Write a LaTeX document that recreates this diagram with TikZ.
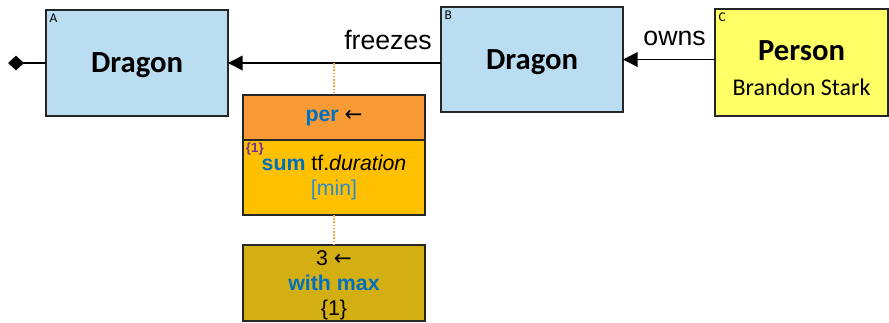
\documentclass[tikz,border=0pt]{standalone}
\usepackage{fontspec}
\setmainfont{Liberation Sans}
\newfontfamily\calibri{Carlito}
\newfontfamily\arrowfont{DejaVu Sans}
\usetikzlibrary{arrows.meta,positioning}
\definecolor{DragonBlue}{HTML}{BBDDF1}
\definecolor{PersonYellow}{HTML}{FFFF66}
\definecolor{PerOrange}{HTML}{F89A36}
\definecolor{SumGold}{HTML}{FFC000}
\definecolor{LimGold}{HTML}{D4AF14}
\definecolor{KeyBlue}{HTML}{0070C0}
\definecolor{MinBlue}{HTML}{2E8BD0}
\definecolor{TagPurple}{HTML}{7030A0}
\definecolor{DotOrange}{HTML}{F5A04A}
\newcommand{\larr}{{\arrowfont\fontsize{16}{18}\selectfont ←}}

\begin{document}
\begin{tikzpicture}[x=0.75pt,y=-0.75pt,>={Triangle[length=11pt,width=11pt]},
  entity/.style={draw=black!85,line width=1pt,minimum width=136.5pt,outer sep=0pt,text depth=0pt,
    font=\calibri\bfseries\fontsize{23}{26}\selectfont},
  tag/.style={anchor=north west,inner sep=2.5pt,font=\calibri\fontsize{10}{11}\selectfont},
  calc/.style={draw=black!85,line width=1pt,minimum width=136.5pt,outer sep=0pt,align=center,
    font=\fontsize{16}{19}\selectfont},
  wire/.style={line width=1.2pt},
  lbl/.style={inner sep=0pt,font=\fontsize{20}{24}\selectfont},
  feed/.style={DotOrange,line width=1.4pt,dash pattern=on 1.2pt off 1.2pt}]
  \useasboundingbox (0,0) rectangle (889,322);

  % entities
  \node[entity,fill=DragonBlue,minimum height=79.5pt,label={[tag]north west:A}] (boxA) at (137,63) {Dragon};
  \node[entity,fill=DragonBlue,minimum height=78.75pt,label={[tag]north west:B}] (boxB) at (532,59.5) {Dragon};
  \node[entity,fill=PersonYellow,minimum width=129.75pt,minimum height=80.25pt,align=center,
    label={[tag]north west:C}] (boxC) at (801.5,62.5)
    {\rule{0pt}{23pt}Person\\[0pt]{\mdseries\fontsize{18}{21}\selectfont Brandon Stark}};

  % relations
  \coordinate (dmTip) at (8,63);
  \coordinate (fzEnd) at (boxB.west |- boxA.east);
  \coordinate (owEnd) at (boxC.west |- boxB.east);
  \draw[{Diamond[length=12pt,width=11pt]}-,wire] (dmTip) -- (boxA.west);
  \draw[->,wire] (fzEnd) -- (boxA.east);
  \draw[->,wire] (owEnd) -- (boxB.east);
  \node[lbl,above left=9.75pt and 6.75pt of fzEnd] (freezesLbl) {freezes};
  \node[lbl,above left=9.75pt and 6.75pt of owEnd] (ownsLbl) {owns};

  % aggregation
  \node[calc,fill=PerOrange,minimum height=33.75pt] (per) at (334,117.5)
    {\textbf{\textcolor{KeyBlue}{per}} \larr};
  \node[calc,fill=SumGold,minimum height=56.25pt,below=0pt of per,
    label={[anchor=north west,inner sep=2pt,text=TagPurple,font=\bfseries\fontsize{10}{11}\selectfont]north west:\{1\}}] (sum)
    {\textbf{\textcolor{KeyBlue}{sum}} tf.\textit{duration}\\\textcolor{MinBlue}{[min]}};
  \node[calc,fill=LimGold,minimum height=57pt,below=22.5pt of sum,font=\fontsize{16}{18.5}\selectfont,
    text depth=0pt] (lim)
    {3 \larr\\\textbf{\textcolor{KeyBlue}{with max}}\\\{1\}};
  \draw[feed] (per.north |- boxA.east) -- (per.north);
  \draw[feed] (sum.south) -- (lim.north);
\end{tikzpicture}
\end{document}
